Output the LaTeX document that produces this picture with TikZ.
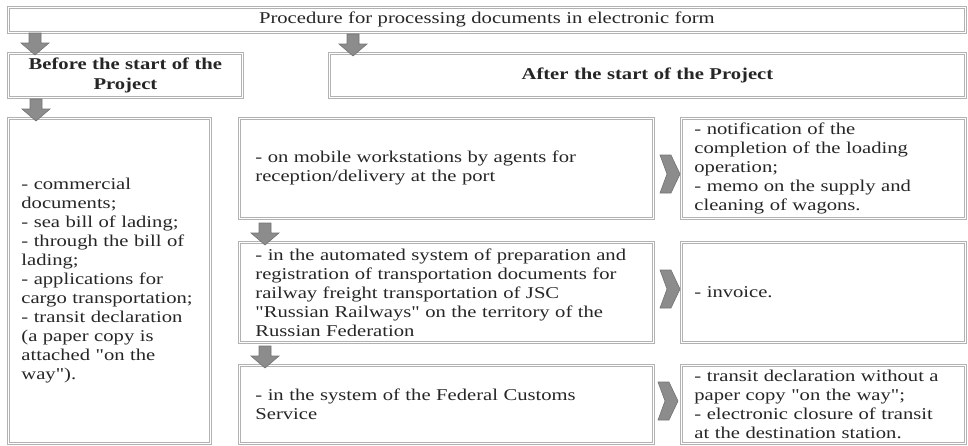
\documentclass[tikz,border=0pt]{standalone}
\usepackage{fontspec}
\setmainfont[FakeStretch=1.25, Ligatures=TeXOff]{Liberation Serif}

\tikzset{
  box/.style={draw=gray!60, double=white, double distance=0.8pt, line width=0.8pt,
    inner ysep=0pt, text=black!85, align=left, anchor=north west},
  headbox/.style={box, align=center, font=\fontsize{16.5}{20}\selectfont\bfseries},
  arrowfill/.style={draw=black!55, fill=black!45, line width=0.6pt},
  pics/downarrow/.style={code={
    \draw[arrowfill] (-6,0) -- (6,0) -- (6,10) -- (14,10) -- (0,22) -- (-14,10) -- (-6,10) -- cycle;}},
  pics/chevron/.style={code={
    \draw[arrowfill] (0,-19) -- (11,-19) -- (20,0) -- (11,19) -- (0,19) -- (7,0) -- cycle;}}
}

\begin{document}
\begin{tikzpicture}[x=1pt, y=-1pt, font=\fontsize{16.5}{19}\selectfont]
    \useasboundingbox (0,0) rectangle (968,445);

    % Title
    \node[box, align=center, inner xsep=14pt, text width=929pt, minimum height=25pt] (title) at (8,7)
      {Procedure for processing documents in electronic form};

    % Before / after the start
    \node[headbox, inner xsep=14pt, text width=206pt, minimum height=44pt] (before) at (8,53)
      {Before the start of the\\Project};
    \node[headbox, inner xsep=14pt, text width=608pt, minimum height=44pt] (after) at (329,53)
      {After the start of the Project};

    % Documents before the start
    \node[box, inner xsep=13pt, text width=176pt, minimum height=325pt] (before list) at (8,118)
      {- commercial\\documents;\\- sea bill of lading;\\- through the bill of\\lading;\\- applications for\\cargo transportation;\\- transit declaration\\(a paper copy is\\attached "on the\\way").};

    % Systems after the start
    \node[box, inner xsep=16pt, text width=382pt, minimum height=100pt] (mobile) at (239,118)
      {- on mobile workstations by agents for\\reception/delivery at the port};
    \node[box, inner xsep=16pt, text width=382pt, minimum height=100pt] (railway) at (239,242)
      {- in the automated system of preparation and\\registration of transportation documents for\\railway freight transportation of JSC\\"Russian Railways" on the territory of the\\Russian Federation};
    \node[box, inner xsep=16pt, text width=382pt, minimum height=78pt] (customs) at (239,365)
      {- in the system of the Federal Customs\\Service};

    % Resulting documents
    \node[box, inner xsep=13pt, text width=258pt, minimum height=100pt] (loading) at (681,118)
      {- notification of the\\completion of the loading\\operation;\\- memo on the supply and\\cleaning of wagons.};
    \node[box, inner xsep=13pt, text width=258pt, minimum height=100pt] (invoice) at (681,242)
      {- invoice.};
    \node[box, inner xsep=13pt, text width=258pt, minimum height=78pt] (transit) at (681,365)
      {- transit declaration without a\\paper copy "on the way";\\- electronic closure of transit\\at the destination station.};

    % Block arrows
    \pic at (35,33) {downarrow};
    \pic at (353,34) {downarrow};
    \pic at (36,99) {downarrow};
    \pic at (265,223) {downarrow};
    \pic at (265,346) {downarrow};

    % Chevrons
    \pic at (660,174) {chevron};
    \pic at (660,289) {chevron};
    \pic at (658,401) {chevron};
  \end{tikzpicture}
\end{document}
